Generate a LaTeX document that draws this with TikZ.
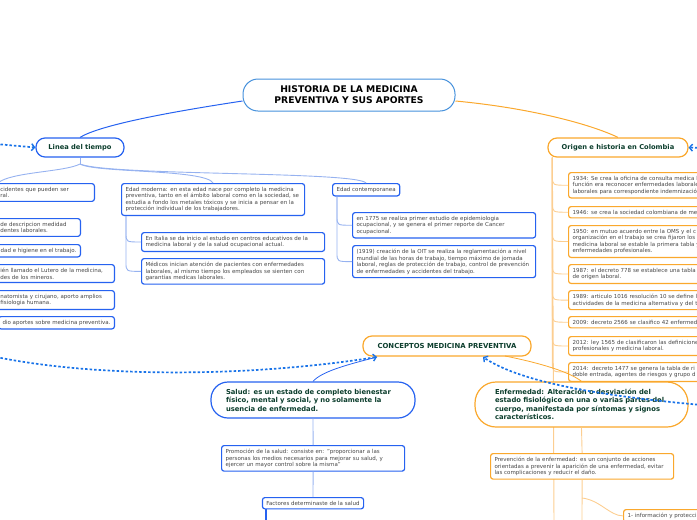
\documentclass[tikz,border=0pt]{standalone}
\usepackage{fontspec}
\setmainfont{DejaVu Sans}
\usetikzlibrary{arrows.meta,calc}
\hyphenpenalty=10000
\exhyphenpenalty=10000
\definecolor{blueb}{RGB}{38,98,240}
\definecolor{lblue}{RGB}{150,178,240}
\definecolor{orangeb}{RGB}{250,168,45}
\definecolor{lorange}{RGB}{252,206,145}
\definecolor{dotblue}{RGB}{25,115,232}
\definecolor{dgreen}{RGB}{12,62,45}
\definecolor{txtgray}{RGB}{72,72,72}
\definecolor{rootb}{RGB}{70,145,220}
\tikzset{
  sbox/.style={draw=blueb, line width=1.2pt, rounded corners=2.5pt, fill=white,
    font=\fontsize{5.5}{6.5}\selectfont, text=txtgray, align=left,
    inner xsep=4pt, inner ysep=3.5pt},
  obox/.style={sbox, draw=orangeb},
  tbox/.style={draw=blueb, line width=1.2pt, fill=white,
    font=\fontsize{6.7}{8}\selectfont\bfseries, text=dgreen,
    rounded corners=9pt, minimum height=19pt},
  otbox/.style={tbox, draw=orangeb},
  conB/.style={draw=lblue, line width=0.9pt},
  conO/.style={draw=lorange, line width=0.9pt},
  conBd/.style={draw=blueb, line width=0.8pt},
  conOd/.style={draw=orangeb, line width=0.8pt},
  dotarrow/.style={draw=dotblue, line width=1.7pt, dash pattern=on 2.5pt off 2pt,
    -{Straight Barb[length=3pt,width=7pt,line width=1.4pt]}}
}
\begin{document}
\begin{tikzpicture}[x=1pt,y=-1pt]
\useasboundingbox (0,0) rectangle (697,520);
\clip (0,0) rectangle (697,520);

% root
\node[draw=rootb, line width=1pt, fill=white, rounded corners=15pt,
  minimum width=212pt, minimum height=32pt, align=center,
  font=\fontsize{9.2}{11}\selectfont\bfseries] (root) at (349,95)
  {HISTORIA DE LA MEDICINA\\PREVENTIVA Y SUS APORTES};

% main branches
\node[tbox, minimum width=88pt] (linea) at (80,147.5) {Linea del tiempo};
\node[otbox, minimum width=140pt] (origen) at (618,147.5) {Origen e historia en Colombia};

\draw[conBd, line width=1pt] ([yshift=-6pt]root.west) .. controls (170,112) and (100,125) .. (linea.north);
\draw[conOd, line width=1pt] ([yshift=-6pt]root.east) .. controls (530,108) and (590,124) .. (origen.north);

% dotted arrows on top
\coordinate (lin) at (-4,144);
\draw[dotarrow] (lin) -- (linea.west);
\coordinate (oin) at (702,148);
\draw[dotarrow] (oin) -- (origen.east);

% left (cut) boxes
\node[sbox, anchor=north east, text width=90pt] (l1) at (95,183) {cidentes que pueden ser\\ral.};
\node[sbox, anchor=north east, text width=76pt] (l2) at (81,218) {de descripcion medidad\\dentes laborales.};
\node[sbox, anchor=north east] (l3) at (81,244) {dad e higiene en el trabajo.};
\node[sbox, anchor=north east, text width=110pt] (l4) at (115,264) {ién llamado el Lutero de la medicina,\\ des de los mineros.};
\node[sbox, anchor=north east, text width=110pt] (l5) at (115,290) {natomista y cirujano, aporto amplios\\ fisiologia humana.};
\node[sbox, anchor=north east] (l6) at (115,316) {dio aportes sobre medicina preventiva.};

% middle blue boxes
\node[sbox, anchor=north west, text width=175pt] (em) at (121,183)
 {Edad moderna: en esta edad nace por completo la medicina\\preventiva, tanto en el ámbito laboral como en la sociedad, se\\estudia a fondo los metales tóxicos y se inicia a pensar en la\\protección individual de los trabajadores.};
\node[sbox, anchor=north west, text width=175pt] (it) at (141,232)
 {En Italia se da inicio al estudio en centros educativos de la\\medicina laboral y de la salud ocupacional actual.};
\node[sbox, anchor=north west, text width=175pt] (med) at (141,258)
 {Médicos inician atención de pacientes con enfermedades\\laborales, al mismo tiempo los empleados se sienten con\\garantías medicas laborales.};
\node[sbox, anchor=north west] (ec) at (332,183) {Edad contemporanea};
\node[sbox, anchor=north west, text width=175pt] (e1775) at (352,212)
 {en 1775 se realiza primer estudio de epidemiologia\\ocupacional, y se genera el primer reporte de Cancer\\ocupacional.};
\node[sbox, anchor=north west, text width=175pt] (oit) at (352,245)
 {(1919) creación de la OIT se realiza la reglamentación a nivel\\mundial de las horas de trabajo, tiempo máximo de jornada\\laboral, reglas de protección de trabajo, control de prevención\\de enfermedades y accidentes del trabajo.};

% linea connectors
\coordinate (lj) at (80,164);
\coordinate (l1top) at (-2,183);
\draw[conB] (linea.south) -- (lj);
\draw[conB] (lj) .. controls (65,172) and (10,172) .. (l1top);
\draw[conB] (lj) .. controls (95,173) and (205,169) .. (em.north);
\draw[conB] (lj) .. controls (110,176) and (355,171) .. (ec.north);

\coordinate (emj) at ([xshift=5pt]em.south west);
\foreach \n in {it,med}{
  \draw[conB] (emj) -- ($(emj |- \n.west)+(0,-9)$) .. controls (emj |- \n.west) .. (\n.west);
}
\coordinate (ecj) at ([xshift=5pt]ec.south west);
\foreach \n in {e1775,oit}{
  \draw[conB] (ecj) -- ($(ecj |- \n.west)+(0,-9)$) .. controls (ecj |- \n.west) .. (\n.west);
}

% orange boxes right
\node[obox, anchor=north west, text width=160pt] (o1) at (568,172)
 {1934: Se crea la oficina de consulta medica l\\función era reconocer enfermedades laborales\\laborales para correspondiente indemnizació};
\node[obox, anchor=north west, text width=160pt] (o2) at (568,206)
 {1946: se crea la sociedad colombiana de me};
\node[obox, anchor=north west, text width=160pt] (o3) at (568,225)
 {1950: en mutuo acuerdo entre la OMS y el c\\organización en el trabajo se crea fijaron los\\medicina laboral se estable la primera tabla y\\enfermedades profesionales.};
\node[obox, anchor=north west, text width=160pt] (o4) at (568,264)
 {1987: el decreto 778 se establece una tabla\\de origen laboral.};
\node[obox, anchor=north west, text width=160pt] (o5) at (568,290)
 {1989: articulo 1016 resolución 10 se define l\\actividades de la medicina alternativa y del t};
\node[obox, anchor=north west, text width=160pt] (o6) at (568,316)
 {2009: decreto 2566 se clasifico 42 enfermed};
\node[obox, anchor=north west, text width=160pt] (o7) at (568,336)
 {2012: ley 1565 de clasificaron las definicione\\profesionales y medicina laboral.};
\node[obox, anchor=north west, text width=160pt] (o8) at (568,362)
 {2014:\ \ decreto 1477 se genera la tabla de ri\\doble entrada, agentes de riesgos y grupo d};

\coordinate (oj) at ([xshift=5pt]origen.south west);
\coordinate (oend) at (554,525);
\draw[conO] (oj) -- (oend);
\foreach \n in {o1,o2,o3,o4,o5,o6,o7,o8}{
  \draw[conO] (oj) -- ($(oj |- \n.west)+(0,-9)$) .. controls (oj |- \n.west) .. (\n.west);
}

% conceptos
\node[otbox, minimum width=168pt, minimum height=20pt, font=\fontsize{6.9}{8}\selectfont\bfseries] (conc) at (447,346) {CONCEPTOS MEDICINA PREVENTIVA};

\node[tbox, rounded corners=17pt, minimum width=204pt, minimum height=36pt, text width=174pt,
  inner xsep=15pt, align=left, font=\fontsize{6.8}{8.5}\selectfont\bfseries] (salud) at (313,400)
 {Salud: es un estado de completo bienestar\\físico, mental y social, y no solamente la\\usencia de enfermedad.};
\node[otbox, rounded corners=21pt, minimum width=213pt, minimum height=45pt, text width=173pt,
  inner xsep=20pt, align=left, font=\fontsize{6.8}{8.4}\selectfont\bfseries] (enf) at (581.5,404.5)
 {Enfermedad: Alteración o desviación del\\estado fisiológico en una o varias partes del\\cuerpo, manifestada por síntomas y signos\\característicos.};

\coordinate (cs) at (377,357);
\coordinate (ce) at (505,356);
\draw[conBd] (cs) .. controls (350,364) and (322,371) .. (salud.north);
\draw[conOd] (ce) .. controls (540,363) and (570,372) .. (enf.north);

% salud children
\node[sbox, anchor=north west, text width=175pt] (promo) at (221,445)
 {Promoción de la salud: consiste en: "proporcionar a las\\personas los medios necesarios para mejorar su salud, y\\ejercer un mayor control sobre la misma"};
\node[sbox, anchor=north] (fact) at (313,497) {Factores determinaste de la salud};
\draw[conB] (salud.south) -- (promo.north);
\draw[conB] (promo.south) -- (fact.north);
\coordinate (fs) at ([xshift=4pt]fact.south west);
\coordinate (fe) at ($(fs)+(0,15)$);
\draw[draw=blueb, line width=1.6pt] (fs) -- (fe);

% enfermedad children
\node[obox, anchor=north west, text width=175pt] (prev) at (490,453)
 {Prevención de la enfermedad: es un conjunto de acciones\\orientadas a prevenir la aparición de una enfermedad, evitar\\las complicaciones y reducir el daño.};
\node[obox, anchor=north west, text width=120pt] (info) at (623,509) {1- información y protecci};
\coordinate (ee) at (582,525);
\draw[conO] (enf.south) -- (prev.north);
\draw[conO] (prev.south) -- (ee);
\coordinate (ij) at (582,498);
\draw[conO] (ij) .. controls (600,500) and (610,516) .. (info.west);

% dotted arrows to conceptos
\coordinate (cin) at (-4,357);
\coordinate (cin2) at (702,405);
\draw[dotarrow] (cin) .. controls (100,378) and (250,377) .. (cs);
\draw[dotarrow] (cin2) .. controls (600,396) and (520,382) .. (483,357);
\end{tikzpicture}
\end{document}
